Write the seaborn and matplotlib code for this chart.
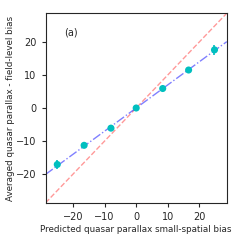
import numpy as np
import matplotlib
matplotlib.use('Agg')
import matplotlib.pyplot as plt
import seaborn as sns

# valores
predicted = [-25.0, -16.5, -8.0, 0.0, 8.4, 16.6, 24.8]
averaged = [-17.1, -11.3, -6.1, 0.0, 5.9, 11.5, 17.6]
errors = [1.5, 0.8, 0.6, 0.5, 0.6, 0.8, 1.5]
fit_slope = 0.70
lim = 28.7

sns.set_style('ticks')
plt.rcParams['font.family'] = ['DejaVu Sans']

fig, ax = plt.subplots(figsize=(2.4, 2.4), dpi=100)

line = np.array([-lim, lim])
ax.plot(line, line, color='red', ls='--', lw=1, alpha=0.4)
ax.plot(line, fit_slope * line, color='blue', ls='-.', lw=1, alpha=0.5)

ax.errorbar(predicted, averaged, yerr=errors, fmt='none', ecolor='c', elinewidth=1.2)
sns.scatterplot(x=predicted, y=averaged, color='c', s=26, edgecolor='none', ax=ax, zorder=3)

ax.set_xlim(-lim, lim)
ax.set_ylim(-lim, lim)
ax.set_xticks([-20, -10, 0, 10, 20])
ax.set_yticks([-20, -10, 0, 10, 20])
ax.tick_params(labelsize=7, length=3, width=0.8)
for s in ax.spines.values():
    s.set_linewidth(0.8)
ax.text(0.1, 0.9, '(a)', transform=ax.transAxes, fontsize=7, va='center')
ax.set_xlabel('Predicted quasar parallax small-spatial bias', fontsize=6.3, labelpad=2)
ax.set_ylabel('Averaged quasar parallax - field-level bias', fontsize=6.3, labelpad=1)

fig.subplots_adjust(left=0.19, right=0.945, top=0.945, bottom=0.155)
fig.savefig('out.png')
